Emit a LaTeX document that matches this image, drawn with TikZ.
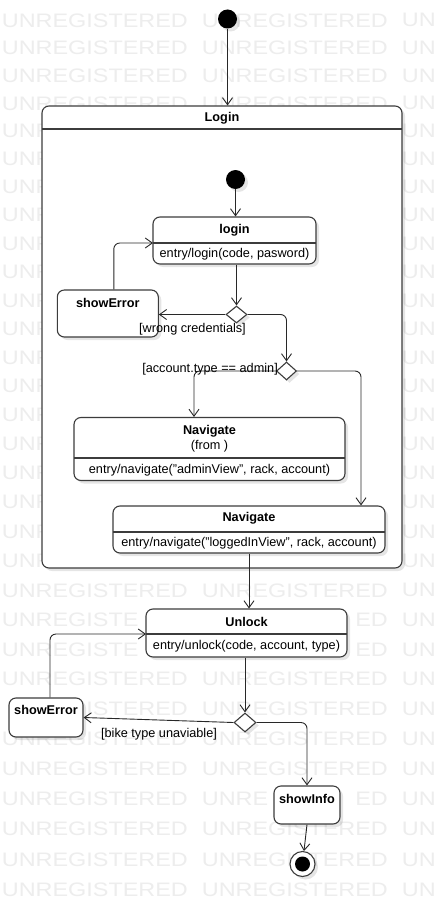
\documentclass[tikz,border=0pt]{standalone}
\usepackage{fontspec}
\usepackage{graphicx}
\setmainfont{Liberation Sans}
\usetikzlibrary{arrows.meta,shapes.geometric,shadows}
\definecolor{wm}{RGB}{237,237,237}
\definecolor{ln}{RGB}{40,40,40}
\definecolor{bd}{RGB}{60,60,60}
\newcommand{\wmtxt}[1]{\scalebox{1.2}[1]{#1}}
\begin{document}
\begin{tikzpicture}[x=1pt,y=-1pt,
  font=\fontsize{12.7}{14}\selectfont,
  shad/.style={drop shadow={shadow xshift=3pt,shadow yshift=-3pt,fill=black,opacity=0.10}},
  statebox/.style={draw=bd,line width=1.1pt,rounded corners=7pt,fill=white,shad,inner sep=0pt},
  title/.style={inner sep=0pt,font=\fontsize{12.7}{14}\selectfont\bfseries},
  txt/.style={inner sep=0pt},
  lbl/.style={inner sep=0pt},
  choice/.style={diamond,draw=bd,line width=1.1pt,fill=white,shad,inner sep=0pt},
  initst/.style={circle,fill=black,inner sep=0pt,minimum size=19pt,shad},
  conn/.style={draw=ln,line width=0.9pt,rounded corners=6pt,-{Straight Barb[length=7pt,width=10pt,line width=0.9pt]}},
  sep/.style={draw=bd,line width=1.1pt},
  wmt/.style={inner sep=0pt,anchor=west,text=wm,font=\fontsize{19.5}{20}\selectfont}
  ]
\useasboundingbox (0,0) rectangle (442,915);
\fill[white] (0,0) rectangle (442,915);
% ---- watermark (only the parts that are not hidden by shapes) ----
\foreach \k/\y in {0/20.3,1/47.87,2/75.54,3/103.3,20/590.3,23/679.18,25/738.93,26/768.94,28/829.27,29/859.58,30/889.99}{
  \node[wmt] (wma\k) at (1.7,\y) {\wmtxt{UNREGISTERED}};
  \node[wmt] (wmb\k) at (201.7,\y) {\wmtxt{UNREGISTERED}};
}
\foreach \k/\y in {4/131.16,5/159.13,6/187.19,7/215.34,8/243.6,9/271.95,10/300.4,11/328.95,12/357.6,13/386.34,14/415.18,15/444.13,16/473.17,17/502.3,18/531.54,19/560.87}{
  \node[wmt] (wma\k) at (1.7,\y) {\wmtxt{UNR}};
}
\foreach \k/\y in {0/20.3,1/47.87,2/75.54,3/103.3,4/131.16,5/159.13,6/187.19,7/215.34,8/243.6,9/271.95,10/300.4,11/328.95,12/357.6,13/386.34,14/415.18,15/444.13,16/473.17,17/502.3,18/531.54,19/560.87,20/590.3,21/619.83,22/649.46,23/679.18,24/709.0,25/738.93,26/768.94,27/799.06,28/829.27,29/859.58,30/889.99}{
  \node[wmt] (wmc\k) at (401.7,\y) {\wmtxt{UN}};
}
\foreach \k/\y in {21/619.83,22/649.46}{
  \node[wmt] (wma\k) at (1.7,\y) {\wmtxt{UNREGISTE}};
  \node[wmt] (wmb\k) at (355.1,\y) {\wmtxt{ED}};
}
\node[wmt] (wma24) at (86.2,709.0) {\wmtxt{ISTERED}};
\node[wmt] (wmb24) at (201.7,709.0) {\wmtxt{UNREGISTERED}};
\node[wmt] (wma27) at (1.7,799.06) {\wmtxt{UNREGISTERED}};
\node[wmt] (wmb27) at (201.7,799.06) {\wmtxt{UNRE}};
\node[wmt] (wmd27) at (355.1,799.06) {\wmtxt{ED}};
% top initial state
\node[initst] (init0) at (227.5,19) {};
% composite Login
\node[statebox,minimum width=360pt,minimum height=462pt] (loginbox) at (222,337) {};
\draw[sep] (42,129) -- (402,129);
\node[title] (loginboxt) at (222,118.5) {Login};
% inner initial
\node[initst] (init1) at (235.5,179.5) {};
% login state
\node[statebox,minimum width=163pt,minimum height=47pt] (login) at (234.5,240.5) {};
\draw[sep] (153,243) -- (316,243);
\coordinate (loginsep) at (153,243);
\node[title] (logint) at (234.5,230) {login};
\node[txt] (logine) at (234.5,254.5) {entry/login(code, pasword)};
% showError 1
\node[statebox,minimum width=101pt,minimum height=47pt] (se1) at (107.8,313.5) {};
\node[title] (se1t) at (107.8,303) {showError};
% decision 1
\node[choice,minimum width=21pt,minimum height=17pt] (d1) at (236.5,314.5) {};
% decision 2
\node[choice,minimum width=20pt,minimum height=18pt] (d2) at (286.5,371) {};
% Navigate 1
\node[statebox,minimum width=271pt,minimum height=63pt] (nav1) at (209.5,449) {};
\draw[sep] (74,458) -- (345,458);
\node[title] (nav1t) at (209.5,431) {Navigate};
\node[txt] (nav1f) at (209.5,446) {(from )};
\node[txt] (nav1e) at (209.5,470) {entry/navigate("adminView", rack, account)};
% Navigate 2
\node[statebox,minimum width=272pt,minimum height=47pt] (nav2) at (249,529.5) {};
\draw[sep] (113,532) -- (385,532);
\node[title] (nav2t) at (249,518) {Navigate};
\node[txt] (nav2e) at (249,543.5) {entry/navigate("loggedInView", rack, account)};
% Unlock
\node[statebox,minimum width=201pt,minimum height=48pt] (unlock) at (246.5,633) {};
\draw[sep] (146,634) -- (347,634);
\coordinate (unlocksep) at (146,634);
\node[title] (unlockt) at (246.5,622) {Unlock};
\node[txt] (unlocke) at (246.5,646.5) {entry/unlock(code, account, type)};
% showError 2
\node[statebox,minimum width=74pt,minimum height=39pt] (se2) at (46,717.5) {};
\node[title] (se2t) at (46,710) {showError};
% decision 3
\node[choice,minimum width=22pt,minimum height=19pt] (d3) at (245,722.5) {};
% showInfo
\node[statebox,minimum width=66pt,minimum height=38pt] (si) at (307,805) {};
\node[title] (sit) at (307,799) {showInfo};
% final state
\node[circle,draw=bd,line width=1.1pt,fill=white,minimum size=25pt,inner sep=0pt,shad,
      path picture={\fill[black] (path picture bounding box.center) circle (7.5pt);}] (fin) at (302.5,864) {};
% connectors
\draw[conn] (init0.south) -- (init0.south |- loginbox.north);
\draw[conn] (init1.south) -- (init1.south |- login.north);
\draw[conn] (d1.north |- login.south) -- (d1.north);
\draw[conn] (d1.west) -- (d1.west -| se1.east);
\node[lbl] (lbl1) at (192.5,329) {[wrong credentials]};
\draw[conn] ([xshift=6pt]se1.north) |- (loginsep);
\draw[conn] (d1.east) -| (d2.north);
\draw[conn] (d2.west) -| ([xshift=-15.5pt]nav1.north);
\node[lbl,anchor=east] (lbl2) at (278,369) {[account.type == admin]};
\draw[conn] (d2.east) -| ([xshift=112pt]nav2.north);
\draw[conn] (nav2.south) -- (nav2.south |- unlock.north);
\draw[conn] (d3.north |- unlock.south) -- (d3.north);
\draw[conn] (d3.west) -- (se2.east);
\node[lbl] (lbl3) at (159,734) {[bike type unaviable]};
\draw[conn] ([xshift=4pt]se2.north) |- (unlocksep);
\draw[conn] (d3.east) -| (si.north);
\draw[conn] (si.south) -- (fin);
\end{tikzpicture}
\end{document}
